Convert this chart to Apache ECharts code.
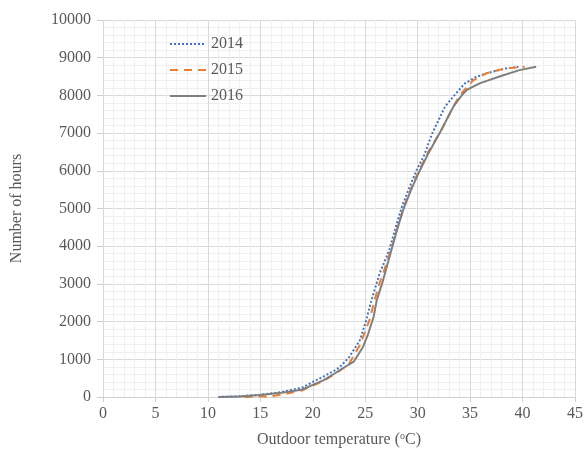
<!DOCTYPE html>
<html>
<head>
<meta charset="utf-8">
<script src="https://cdn.jsdelivr.net/npm/echarts@6/dist/echarts.min.js"></script>
<style>
  html, body { margin: 0; padding: 0; background: #fff; }
  #chart { width: 585px; height: 449px; }
</style>
</head>
<body>
<div id="chart"></div>
<script>
// outdoor temperature (°C) vs cumulative hours
const years = ['2014', '2015', '2016']

const temp2014 = [11, 13, 15, 17, 18, 19, 20, 21, 22, 22.6, 23.5, 24.5, 25.1, 25.6, 26.4, 27.3, 27.9, 28.5, 29.2, 29.9, 30.6, 31.4, 32.6, 33.4, 34.5, 35.5, 36.6, 38.5, 39.6]
const hours2014 = [0, 20, 60, 130, 190, 250, 400, 540, 690, 800, 1070, 1510, 2040, 2570, 3300, 3900, 4500, 5050, 5550, 6020, 6400, 7000, 7700, 7970, 8320, 8480, 8590, 8720, 8760]

const temp2015 = [13.5, 15, 16, 17, 18, 19, 20, 21, 22, 23, 23.5, 24.5, 25.4, 25.9, 26.4, 26.8, 27.2, 27.6, 28.2, 28.7, 29.4, 30.2, 31.1, 32.3, 33.2, 33.8, 34.3, 35.3, 36.5, 37.8, 39, 40.2]
const hours2015 = [0, 10, 20, 60, 120, 180, 300, 420, 590, 780, 900, 1380, 2040, 2570, 3050, 3350, 3700, 4050, 4600, 5050, 5550, 6050, 6550, 7100, 7600, 7900, 8100, 8400, 8580, 8680, 8730, 8760]

const temp2016 = [11.1, 13, 15, 17, 18, 19, 20, 21, 22, 22.6, 23.9, 24.8, 25.3, 25.8, 26.1, 26.6, 27.1, 27.6, 28.1, 28.6, 29.3, 30.1, 31, 32.1, 33.4, 34.2, 34.7, 35.9, 37.8, 39.7, 41.3]
const hours2016 = [0, 15, 50, 110, 150, 200, 320, 440, 610, 716, 937, 1335, 1690, 2130, 2570, 3000, 3500, 4000, 4500, 4950, 5450, 5950, 6450, 7000, 7700, 8000, 8150, 8320, 8500, 8670, 8761]

const font = 'Liberation Serif'
const textColor = '#595959'

function pairs(xs, ys) {
  return xs.map((x, i) => [x, ys[i]])
}

let chart = echarts.init(document.getElementById('chart'))
chart.setOption({
  animation: false,
  grid: {
    left: 103,
    right: 10,
    top: 20,
    bottom: 52,
    containLabel: false,
    outerBoundsMode: 'none',
  },
  legend: {
    orient: 'vertical',
    left: 164,
    top: 31,
    itemWidth: 36,
    itemHeight: 14,
    itemGap: 10,
    itemStyle: { opacity: 0 },
    textStyle: { fontFamily: font, fontSize: 16, color: textColor },
    data: years,
  },
  xAxis: {
    type: 'value',
    min: 0,
    max: 45,
    interval: 5,
    name: '{a|Outdoor temperature (}{s|o}{a|C)}',
    nameLocation: 'middle',
    nameGap: 34,
    nameTextStyle: {
      rich: {
        a: { fontFamily: font, fontSize: 16, color: textColor, lineHeight: 18 },
        s: { fontFamily: font, fontSize: 10, color: textColor, verticalAlign: 'top', lineHeight: 18 },
      },
    },
    axisLine: { lineStyle: { color: '#d0d0d0', width: 1 } },
    axisTick: { show: true, length: 5, lineStyle: { color: '#d0d0d0' } },
    axisLabel: { fontFamily: font, fontSize: 16, color: textColor, margin: 9 },
    splitLine: { lineStyle: { color: '#d9d9d9' } },
    minorTick: { show: false, splitNumber: 5 },
    minorSplitLine: { show: true, lineStyle: { color: '#f0f0f0' } },
  },
  yAxis: {
    type: 'value',
    min: 0,
    max: 10000,
    interval: 1000,
    name: 'Number of hours',
    nameLocation: 'middle',
    nameGap: 78,
    nameTextStyle: { fontFamily: font, fontSize: 16, color: textColor },
    axisLine: { show: false },
    axisTick: { show: true, length: 6, lineStyle: { color: '#d0d0d0' } },
    axisLabel: { fontFamily: font, fontSize: 16, color: textColor, margin: 12, formatter: v => String(v) },
    splitLine: { lineStyle: { color: '#d9d9d9' } },
    minorTick: { show: false, splitNumber: 5 },
    minorSplitLine: { show: true, lineStyle: { color: '#f0f0f0' } },
  },
  series: [
    {
      name: '2014',
      type: 'line',
      symbol: 'none',
      data: pairs(temp2014, hours2014),
      lineStyle: { color: '#4472c4', width: 2, type: [2, 2] },
      itemStyle: { color: '#4472c4' },
    },
    {
      name: '2015',
      type: 'line',
      symbol: 'none',
      data: pairs(temp2015, hours2015),
      lineStyle: { color: '#ed7d31', width: 2, type: [8, 6] },
      itemStyle: { color: '#ed7d31' },
    },
    {
      name: '2016',
      type: 'line',
      symbol: 'none',
      data: pairs(temp2016, hours2016),
      lineStyle: { color: '#7f7f7f', width: 2 },
      itemStyle: { color: '#7f7f7f' },
    },
  ],
})
</script>
</body>
</html>
